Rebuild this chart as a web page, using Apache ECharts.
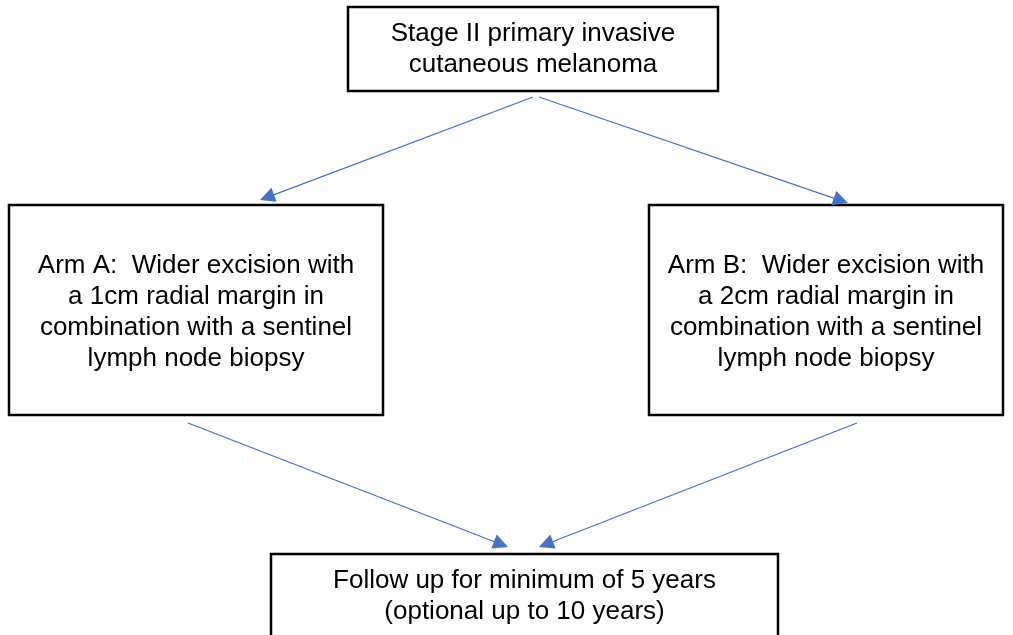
<!DOCTYPE html>
<html>
<head>
<meta charset="utf-8">
<script src="https://cdn.jsdelivr.net/npm/echarts@6/dist/echarts.min.js"></script>
<style>html,body{margin:0;padding:0;background:#fff}#c{width:1013px;height:635px}</style>
</head>
<body>
<div id="c"></div>
<script>
// Flowchart nodes: label text and box extents [x1, y1, x2, y2] in chart units
var nodeNames = ['Top', 'ArmA', 'ArmB', 'FollowUp'];
var nodeTexts = [
  'Stage II primary invasive\ncutaneous melanoma',
  'Arm A:  Wider excision with\na 1cm radial margin in\ncombination with a sentinel\nlymph node biopsy',
  'Arm B:  Wider excision with\na 2cm radial margin in\ncombination with a sentinel\nlymph node biopsy',
  'Follow up for minimum of 5 years\n(optional up to 10 years)'
];
var nodeBoxes = [
  [348, 7, 718, 91],
  [9, 205, 383, 415],
  [649, 205, 1003, 415],
  [271, 554, 778, 650]
];
// text block centre y for each box (follow-up box runs off the page)
var nodeTextY = [49, 312, 312, 596];
// Arrows: [from, arrow tip]
var arrows = [
  [[533, 97], [260, 200]],
  [[539, 97], [848, 203]],
  [[188, 423], [508, 547]],
  [[857, 423], [539, 547]]
];

var ARROW = 15;
var chart = echarts.init(document.getElementById('c'));
var boxData = nodeBoxes.map(function (b, i) {
  return { name: nodeNames[i], value: [b[0], b[1], b[2], b[3], nodeTextY[i]] };
});
// the triangle symbol is centred on the line end, so pull the end back by half its size
var lineData = arrows.map(function (a) {
  var dx = a[1][0] - a[0][0], dy = a[1][1] - a[0][1];
  var len = Math.sqrt(dx * dx + dy * dy);
  var k = (len - ARROW / 2) / len;
  return { coords: [a[0], [a[0][0] + dx * k, a[0][1] + dy * k]] };
});
chart.setOption({
  animation: false,
  grid: { left: 0, right: 0, top: 0, bottom: 0 },
  xAxis: { type: 'value', min: 0, max: 1013, show: false },
  yAxis: { type: 'value', min: 0, max: 635, inverse: true, show: false },
  series: [
    {
      type: 'custom',
      coordinateSystem: 'cartesian2d',
      data: boxData,
      clip: false,
      renderItem: function (params, api) {
        var p1 = api.coord([api.value(0), api.value(1)]);
        var p2 = api.coord([api.value(2), api.value(3)]);
        var ty = api.coord([0, api.value(4)])[1];
        var txt = nodeTexts[params.dataIndex];
        return {
          type: 'group',
          children: [
            {
              type: 'rect',
              shape: { x: p1[0], y: p1[1], width: p2[0] - p1[0], height: p2[1] - p1[1] },
              style: { fill: '#fff', stroke: '#000', lineWidth: 2.5 }
            },
            {
              type: 'text',
              x: (p1[0] + p2[0]) / 2,
              y: ty,
              style: {
                text: txt,
                fill: '#000',
                font: '26px "Liberation Sans", Arial, sans-serif',
                lineHeight: 31,
                align: 'center',
                verticalAlign: 'middle'
              }
            }
          ]
        };
      }
    },
    {
      type: 'lines',
      coordinateSystem: 'cartesian2d',
      polyline: false,
      symbol: ['none', 'triangle'],
      symbolSize: ARROW,
      lineStyle: { color: '#4472C4', width: 1.2, opacity: 1 },
      itemStyle: { color: '#4472C4' },
      data: lineData
    }
  ]
});
</script>
</body>
</html>
